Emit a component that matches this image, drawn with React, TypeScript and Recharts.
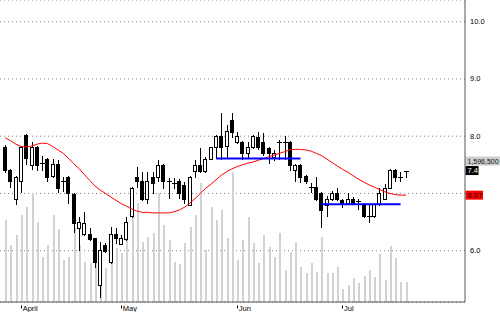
import { ComposedChart, Bar, Line, XAxis, YAxis, CartesianGrid, ReferenceLine } from 'recharts';

// daily OHLC
const opens = [
  7.81, 7.41, 6.90, 7.21, 8.02, 7.50, 7.82, 7.53, 7.61, 7.30, 7.51, 7.21, 7.29, 6.99, 6.39, 6.29,
  6.30, 6.22, 5.40, 6.10, 5.80, 6.30, 6.12, 6.20, 6.60, 7.29, 7.21, 6.90, 7.29, 7.29, 7.50, 7.21,
  7.18, 7.21, 7.15, 6.80, 7.40, 7.50, 7.40, 7.61, 7.81, 8.00, 7.83, 8.28, 7.90, 7.90, 7.70, 7.81,
  7.99, 7.90, 7.80, 7.63, 7.90, 7.90, 7.90, 7.41, 7.50, 7.30, 7.12, 7.12, 7.00, 6.80, 6.91, 7.00,
  6.88, 6.83, 6.91, 6.86, 6.81, 6.60, 6.60, 6.81, 6.91, 7.10, 7.41, 7.29, 7.40,
];
const highs = [
  7.85, 7.43, 7.30, 7.83, 8.03, 7.90, 7.83, 7.65, 7.62, 7.60, 7.58, 7.29, 7.30, 7.01, 6.59, 6.68,
  6.39, 6.23, 6.16, 6.13, 6.41, 6.39, 6.27, 6.59, 7.11, 7.47, 7.38, 7.38, 7.38, 7.58, 7.52, 7.27,
  7.27, 7.25, 7.20, 7.30, 7.58, 7.79, 7.63, 7.82, 8.02, 8.40, 8.19, 8.40, 8.08, 7.92, 7.90, 8.02,
  8.08, 8.05, 7.82, 7.76, 7.93, 8.00, 7.92, 7.52, 7.52, 7.32, 7.18, 7.29, 7.02, 6.95, 7.05, 7.10,
  6.91, 7.00, 6.93, 6.90, 6.83, 6.80, 6.83, 7.09, 7.16, 7.42, 7.42, 7.37, 7.40,
];
const lows = [
  7.38, 7.12, 6.82, 7.03, 7.51, 7.43, 7.41, 7.41, 7.21, 7.29, 7.03, 7.05, 6.83, 6.33, 6.02, 6.27,
  6.18, 5.72, 5.20, 5.98, 5.79, 6.14, 6.11, 6.19, 6.59, 7.12, 6.88, 6.83, 7.00, 7.21, 7.09, 6.92,
  7.10, 6.92, 6.84, 6.79, 7.29, 7.38, 7.38, 7.60, 7.62, 7.61, 7.62, 7.99, 7.88, 7.61, 7.64, 7.79,
  7.78, 7.68, 7.53, 7.58, 7.61, 7.61, 7.41, 7.21, 7.20, 7.19, 7.03, 6.88, 6.42, 6.61, 6.89, 6.89,
  6.77, 6.82, 6.82, 6.72, 6.58, 6.51, 6.58, 6.80, 6.90, 7.09, 7.21, 7.21, 7.29,
];
const closes = [
  7.41, 7.21, 7.29, 7.82, 7.62, 7.82, 7.50, 7.53, 7.29, 7.51, 7.09, 7.21, 7.00, 6.49, 6.50, 6.49,
  6.20, 5.80, 6.01, 6.00, 6.30, 6.22, 6.22, 6.51, 7.10, 7.21, 6.90, 7.21, 7.19, 7.50, 7.21, 7.21,
  7.18, 7.00, 6.90, 7.29, 7.50, 7.40, 7.61, 7.81, 8.00, 7.81, 8.09, 8.08, 8.00, 7.70, 7.81, 8.00,
  7.81, 7.70, 7.70, 7.70, 7.90, 7.90, 7.50, 7.50, 7.29, 7.21, 7.12, 6.90, 6.71, 6.90, 7.00, 6.91,
  6.84, 6.91, 6.83, 6.86, 6.60, 6.60, 6.81, 7.00, 7.10, 7.41, 7.29, 7.29, 7.40,
];
// volume, thousands of shares
const volumes = [
  6540, 4550, 5350, 6940, 7580, 8700, 6380, 3590, 4550, 6940, 5830, 3350, 3590, 5990, 4550, 3190,
  3110, 4150, 2790, 2710, 3590, 4310, 3910, 6140, 6780, 7900, 4790, 5190, 5510, 8700, 6140, 4950,
  3190, 3030, 4710, 5990, 6940, 9500, 4150, 7580, 6540, 7340, 5110, 10370, 3350, 4950, 6780, 4710,
  3110, 5350, 4390, 3590, 5510, 2550, 3990, 4790, 2790, 2310, 3110, 2390, 5190, 2310, 2310, 2790,
  1040, 1360, 1920, 1520, 2070, 2550, 2000, 3830, 1760, 4470, 3510, 1600, 1597,
];
const movingAvg = [
  7.97, 7.92, 7.86, 7.82, 7.81, 7.83, 7.86, 7.88, 7.87, 7.82, 7.76, 7.70, 7.61, 7.52, 7.43, 7.33,
  7.23, 7.13, 7.06, 7.00, 6.94, 6.88, 6.82, 6.78, 6.73, 6.69, 6.67, 6.67, 6.66, 6.66, 6.66, 6.66,
  6.68, 6.71, 6.76, 6.83, 6.91, 7.00, 7.09, 7.16, 7.24, 7.32, 7.38, 7.43, 7.47, 7.50, 7.53, 7.55,
  7.58, 7.61, 7.64, 7.67, 7.70, 7.73, 7.76, 7.77, 7.77, 7.76, 7.74, 7.70, 7.66, 7.60, 7.54, 7.48,
  7.42, 7.37, 7.31, 7.25, 7.20, 7.15, 7.11, 7.07, 7.03, 7.00, 6.98, 6.97, 6.97,
];
const monthTicks: Record<number, string> = { 3: 'April', 22: 'May', 44: 'Jun', 64: 'Jul' };
const levels = [
  { from: 40, to: 56, price: 7.61 },
  { from: 60, to: 75, price: 6.81 },
];
const priceTicks = [6, 7, 8, 9, 10];
const lastVolume = '1,596,500';

const FONT = '"Liberation Sans", Arial, sans-serif';
const FS = 7.5;

const data = opens.map((o, i) => {
  const row: any = {
    i, open: o, high: highs[i], low: lows[i], close: closes[i],
    range: [lows[i], highs[i]], vol: volumes[i], ma: movingAvg[i],
  };
  levels.forEach((l, k) => { row['lvl' + k] = i >= l.from && i <= l.to ? l.price : null; });
  return row;
});

const Candle = (props: any) => {
  const { x, y, width, height, payload } = props;
  const { open, close, high, low } = payload;
  const span = high - low;
  if (!span || !height) return null;
  const k = height / span;
  const py = (v: number) => Math.round(y + (high - v) * k);
  const c = Math.floor(x + width / 2);
  const top = py(Math.max(open, close));
  const bot = py(Math.min(open, close));
  const up = close > open;
  return (
    <g shapeRendering="crispEdges">
      <line x1={c + 0.5} x2={c + 0.5} y1={py(high)} y2={py(low) + 1} stroke="#000" />
      {bot - top < 1
        ? <line x1={c - 2} x2={c + 3} y1={top + 0.5} y2={top + 0.5} stroke="#000" />
        : <rect x={c - 1.5} y={top + 0.5} width={3} height={bot - top} fill={up ? '#fff' : '#000'} stroke="#000" />}
    </g>
  );
};

const VolBar = (props: any) => {
  const { x, y, width, height } = props;
  if (!height) return null;
  const c = Math.floor(x + width / 2);
  return <rect x={c} y={Math.round(y)} width={2} height={302 - Math.round(y)} fill="#d2d2d2" />;
};

const MonthTick = (props: any) => {
  const { x, y, payload } = props;
  const label = monthTicks[payload.value];
  if (!label) return null;
  const tx = Math.floor(x) + 0.5;
  return (
    <g>
      <line x1={tx} x2={tx} y1={y + 1.5} y2={y + 4.5} stroke="#000" />
      <text x={x + 1.5} y={y + 6.8} fontSize={FS} fontFamily={FONT} fill="#000">{label}</text>
    </g>
  );
};

const PriceTick = (props: any) => {
  const { x, y, payload } = props;
  if (payload.value === 7) return null;
  return (
    <text x={x + 3} y={y + 2.5} fontSize={FS} fontFamily={FONT} fill="#000">{payload.value.toFixed(1)}</text>
  );
};

const SideTag = (props: any) => {
  const { viewBox, text, bg, color, w, dy = 0, fs = FS } = props;
  if (!viewBox) return null;
  const left = viewBox.x + viewBox.width + 0.5;
  const cy = viewBox.y + dy;
  return (
    <g>
      <rect x={left} y={cy - 4.5} width={w} height={9} fill={bg} />
      <text x={left + 2} y={cy + 2.7} fontSize={fs} fontFamily={FONT} fill={color}>{text}</text>
    </g>
  );
};

export default function App() {
  return (
    <div style={{ position: 'absolute', left: 0, top: 0, width: 500, height: 312, background: '#fff' }}>
      <ComposedChart width={500} height={312} data={data} margin={{ top: 0, right: 0, bottom: 0, left: 0 }}>
        <CartesianGrid vertical={false} stroke="#808080" strokeDasharray="1 3" />
        <XAxis
          dataKey="i"
          type="category"
          padding={{ left: 2.7, right: 56.5 }}
          height={10}
          interval={0}
          tickLine={false}
          tickSize={0}
          axisLine={{ stroke: '#555' }}
          tick={<MonthTick />}
        />
        <XAxis xAxisId="v" dataKey="i" type="category" padding={{ left: 2.7, right: 56.5 }} hide />
        <YAxis
          orientation="right"
          width={35}
          domain={[5.104, 10.379]}
          ticks={priceTicks}
          allowDataOverflow
          interval={0}
          tickLine={false}
          tickSize={0}
          axisLine={{ stroke: '#555' }}
          tick={<PriceTick />}
        />
        <YAxis yAxisId="v" domain={[0, 24100]} allowDataOverflow hide />
        <Bar xAxisId="v" yAxisId="v" dataKey="vol" barSize={2} shape={<VolBar />} activeBar={false} isAnimationActive={false} />
        <Line dataKey="ma" type="linear" stroke="#ff0000" strokeWidth={1} dot={false} activeDot={false} isAnimationActive={false} />
        <Bar dataKey="range" barSize={4} shape={<Candle />} activeBar={false} isAnimationActive={false} />
        {levels.map((l, k) => (
          <Line key={k} dataKey={'lvl' + k} type="linear" stroke="#0000ff" strokeWidth={2} dot={false} activeDot={false} isAnimationActive={false} />
        ))}
        <ReferenceLine
          y={closes[closes.length - 1]}
          stroke="none"
          label={<SideTag text={lastVolume} bg="#cdcdcd" color="#111" w={40} dy={-9.5} fs={7} />}
        />
        <ReferenceLine
          y={closes[closes.length - 1]}
          stroke="none"
          label={<SideTag text={closes[closes.length - 1].toFixed(1)} bg="#000" color="#fff" w={13} />}
        />
        <ReferenceLine
          y={movingAvg[movingAvg.length - 1]}
          stroke="none"
          label={<SideTag text={movingAvg[movingAvg.length - 1].toFixed(2)} bg="#ff0000" color="#200" w={17.5} />}
        />
      </ComposedChart>
    </div>
  );
}
